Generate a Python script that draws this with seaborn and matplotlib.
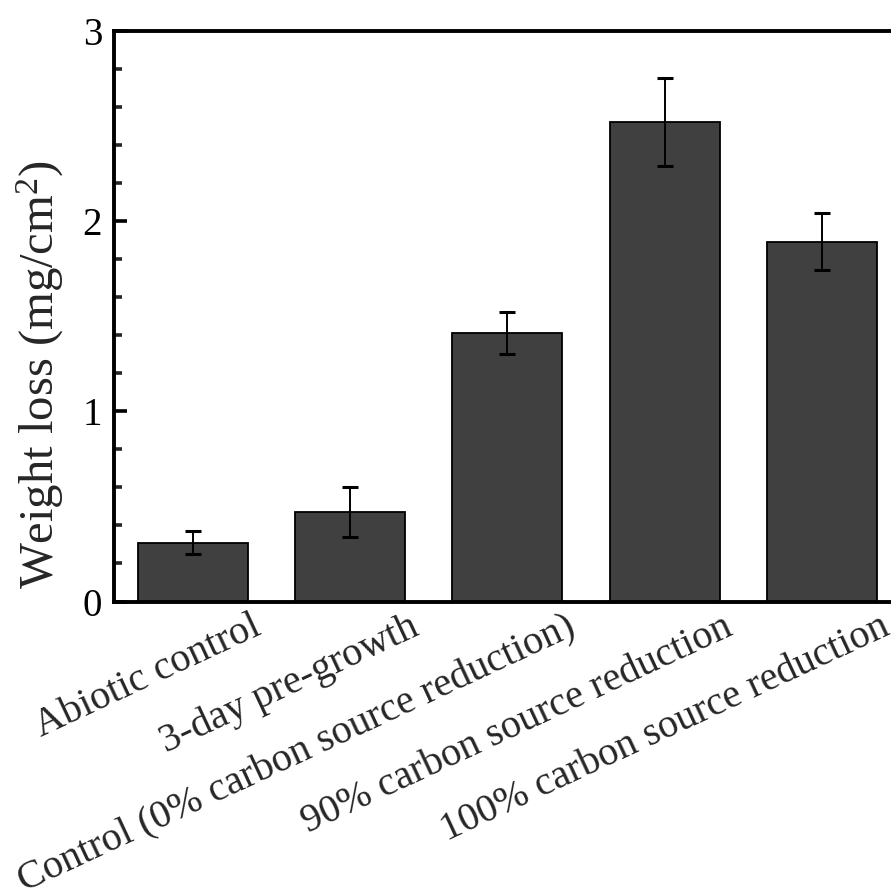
import matplotlib
matplotlib.use("Agg")
import matplotlib.pyplot as plt
import matplotlib.transforms as mtransforms
from matplotlib.ticker import MultipleLocator
import seaborn as sns
import pandas as pd

categories = [
    "Abiotic control",
    "3-day pre-growth",
    "Control (0% carbon source reduction)",
    "90% carbon source reduction",
    "100% carbon source reduction",
]
weight_loss = [0.31, 0.47, 1.41, 2.52, 1.89]
errors = [0.06, 0.13, 0.11, 0.23, 0.15]
y_ticks = [0, 1, 2, 3]

sns.set_theme(style="white")
plt.rcParams["font.family"] = ["Liberation Serif", "DejaVu Serif"]
plt.rcParams["mathtext.fontset"] = "custom"
plt.rcParams["mathtext.rm"] = "Liberation Serif"
plt.rcParams["mathtext.it"] = "Liberation Serif:italic"

df = pd.DataFrame({"cat": categories, "val": weight_loss})

fig = plt.figure(figsize=(8.91, 8.93), dpi=100)
ax = fig.add_axes([0.1285, 0.3264, 0.882, 0.6394])

sns.barplot(data=df, x="cat", y="val", ax=ax, color="#404040", width=0.7,
            edgecolor="black", linewidth=1.3, saturation=1, errorbar=None)
for p in ax.patches:
    p.set_facecolor("#404040")

xs = ax.get_xticks()
ax.errorbar(xs, weight_loss, yerr=errors, fmt="none", ecolor="black",
            elinewidth=1.4, capsize=6, capthick=2.2, zorder=5)

ax.set_xlim(-0.5, 4.5)
ax.set_ylim(0, 3)
ax.set_yticks(y_ticks)
ax.set_yticklabels([str(t) for t in y_ticks])
ax.yaxis.set_minor_locator(MultipleLocator(0.2))
ax.tick_params(axis="y", which="major", direction="in", length=9.5, width=2.6,
               labelsize=28, pad=9, left=True, colors="black")
ax.tick_params(axis="y", which="minor", direction="in", length=5.8, width=2.6, left=True)
ax.tick_params(axis="x", which="both", length=0, pad=5)

ax.set_xticks(xs)
ax.set_xticklabels(categories, rotation=25, ha="right", va="top",
                   rotation_mode="anchor", fontsize=29)
offset = mtransforms.ScaledTranslation(0.58, 0.0, fig.dpi_scale_trans)
for lbl in ax.get_xticklabels():
    lbl.set_transform(lbl.get_transform() + offset)

ax.set_xlabel("")
ax.set_ylabel("Weight loss (mg/cm$^{2}$)", fontsize=35)
ax.yaxis.set_label_coords(-0.062, 0.397)

for side in ["left", "bottom", "top", "right"]:
    ax.spines[side].set_visible(True)
    ax.spines[side].set_linewidth(2.8)
    ax.spines[side].set_color("black")

fig.savefig("out.png", dpi=100, facecolor="white")
